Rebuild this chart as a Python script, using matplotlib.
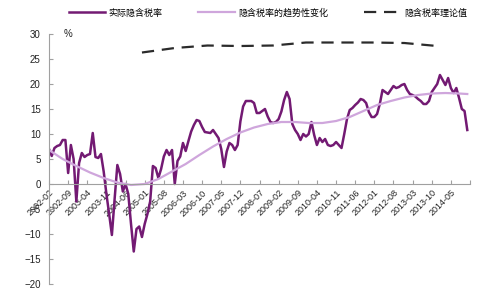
import pandas as pd
import matplotlib.pyplot as plt

plt.rcParams['font.family'] = ['Liberation Sans', 'Noto Sans CJK SC', 'DejaVu Sans']

# ----------------------------
# DATA
# ----------------------------
months = pd.period_range('2002-02', periods=155, freq='M').strftime('%Y-%m').tolist()

# 实际隐含税率, monthly from 2002-02
actual = [
    7.0, 5.6, 7.2, 7.6, 7.8, 8.8, 8.8, 2.2, 7.8, 5.0,
    -3.5, 4.2, 6.2, 5.4, 5.8, 6.0, 10.2, 5.4, 5.2, 6.0,
    2.5, -2.0, -6.0, -10.2, -3.0, 3.8, 2.0, -1.5, 0.0, -2.0,
    -8.0, -13.5, -9.0, -8.5, -10.6, -8.0, -6.0, -3.5, 3.6, 3.2,
    1.2, 3.0, 5.5, 6.8, 5.8, 6.8, 0.0, 4.6, 5.5, 8.2,
    6.6, 8.6, 10.5, 11.8, 12.8, 12.6, 11.4, 10.4, 10.3, 10.2,
    10.8, 10.0, 9.2, 7.0, 3.4, 6.5, 8.2, 7.8, 6.8, 7.8,
    12.5, 15.5, 16.6, 16.6, 16.6, 16.2, 14.2, 14.2, 14.6, 15.0,
    13.5, 12.4, 12.2, 12.4, 13.0, 14.5, 16.8, 18.4, 17.0, 12.0,
    10.8, 10.0, 8.8, 10.0, 9.5, 10.0, 12.4, 9.8, 7.8, 9.2,
    8.4, 9.0, 7.8, 7.6, 7.8, 8.4, 7.8, 7.2, 10.0, 13.0,
    14.8, 15.2, 15.8, 16.3, 17.0, 16.8, 16.2, 14.4, 13.4, 13.4,
    14.0, 16.0, 18.8, 18.4, 18.0, 18.8, 19.6, 19.2, 19.4, 19.8,
    20.0, 18.8, 18.0, 17.8, 17.5, 17.0, 16.6, 16.0, 16.0, 16.6,
    18.4, 19.2, 20.0, 21.8, 20.8, 19.8, 21.2, 19.2, 18.2, 19.2,
    17.2, 15.0, 14.6, 10.8,
]

# 隐含税率的趋势性变化 (sampled every 5 months)
trend_idx = [0, 5, 10, 15, 20, 25, 30, 35, 40, 45, 50, 55, 60, 65, 70, 75,
             80, 85, 90, 95, 100, 105, 110, 115, 120, 125, 130, 135, 140, 145, 150, 153]
trend = [6.8, 5.0, 3.6, 2.3, 1.2, 0.3, -0.2, 0.0, 1.0, 2.5, 4.0, 5.8, 7.5, 9.0, 10.3, 11.3,
         12.0, 12.4, 12.4, 12.2, 12.2, 12.6, 13.4, 14.6, 15.8, 16.6, 17.3, 17.8, 18.1, 18.2, 18.1, 18.0]

# 隐含税率理论值 (yearly)
theory_idx = [34, 46, 58, 70, 82, 94, 106, 118, 130, 142]
theory = [26.3, 27.2, 27.7, 27.6, 27.7, 28.3, 28.3, 28.3, 28.2, 27.6]

# ----------------------------
# PLOT
# ----------------------------
fig = plt.figure(figsize=(4.96, 3.01), dpi=100)
ax = fig.add_axes([0.0988, 0.0565, 0.8488, 0.8305])

ax.plot(range(len(actual)), actual, color='#731a73', lw=1.8, label='实际隐含税率')
ax.plot(trend_idx, trend, color='#cfa6dc', lw=1.6, label='隐含税率的趋势性变化')
ax.plot(theory_idx, theory, color='#2b2b2b', lw=1.6, dashes=(5.5, 3.5), label='隐含税率理论值')

# spine position first: it resets the ticks
ax.spines['top'].set_visible(False)
ax.spines['right'].set_visible(False)
ax.spines['bottom'].set_position(('data', 0))
for s in ['left', 'bottom']:
    ax.spines[s].set_color('#a0a0a0')
    ax.spines[s].set_linewidth(0.8)

ax.set_ylim(-20, 30)
ax.set_yticks(range(-20, 31, 5))
ax.set_xlim(0, 154)
xt = list(range(0, 155, 7))
ax.set_xticks(xt)
ax.set_xticklabels([months[i] if i < 150 else '' for i in xt], rotation=45,
                   ha='right', rotation_mode='anchor', fontsize=6.5, color='#222222')

ax.tick_params(axis='y', direction='in', length=3, color='#a0a0a0', labelsize=7, labelcolor='#222222', pad=6)
ax.tick_params(axis='x', direction='in', length=3, color='#a0a0a0', pad=3)

ax.text(0.035, 1.0, '%', transform=ax.transAxes, fontsize=7, va='center', color='#222222')

fig.legend(loc='upper center', bbox_to_anchor=(0.54, 1.0), ncol=3, frameon=False,
           fontsize=6.5, handlelength=4.0, columnspacing=4.0, handletextpad=0.4)

plt.savefig('out.png', dpi=100)
